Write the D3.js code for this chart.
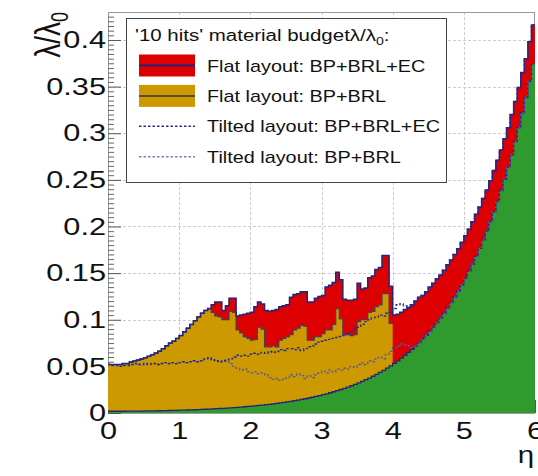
<!DOCTYPE html>
<html>
<head>
<meta charset="utf-8">
<script src="https://cdn.jsdelivr.net/npm/d3@7"></script>
<style>
  body { margin: 0; background: #fff; }
  svg { display: block; }
  text { font-family: "Liberation Sans", Arial, Helvetica, sans-serif; fill: #111; }
</style>
</head>
<body>
<svg id="chart" width="538" height="476"></svg>
<script>
// ---- binning and axes ----
const etaRange = [0, 6];
const binWidth = 0.05;
const yMax = 0.43;
const xTicks = [0, 1, 2, 3, 4, 5, 6];
const xTickLabels = ["0", "1", "2", "3", "4", "5", "6"];
const yTicks = [0, 0.05, 0.1, 0.15, 0.2, 0.25, 0.3, 0.35, 0.4];
const yTickLabels = ["0", "0.05", "0.1", "0.15", "0.2", "0.25", "0.3", "0.35", "0.4"];

// ---- cumulative material budget per eta bin (lambda/lambda_0) ----
// beam pipe only
const bpTotal = [
  0.0019,0.0019,0.0019,0.0019,0.0019,0.0020,0.0020,0.0020,0.0021,0.0021,
  0.0022,0.0022,0.0023,0.0023,0.0024,0.0025,0.0026,0.0027,0.0028,0.0029,
  0.0030,0.0031,0.0032,0.0034,0.0035,0.0037,0.0038,0.0040,0.0042,0.0044,
  0.0046,0.0048,0.0050,0.0052,0.0055,0.0058,0.0060,0.0063,0.0067,0.0070,
  0.0073,0.0077,0.0081,0.0085,0.0089,0.0093,0.0098,0.0103,0.0108,0.0114,
  0.0119,0.0125,0.0132,0.0139,0.0146,0.0153,0.0161,0.0169,0.0178,0.0187,
  0.0196,0.0206,0.0217,0.0228,0.0239,0.0252,0.0264,0.0278,0.0292,0.0307,
  0.0323,0.0339,0.0357,0.0375,0.0394,0.0414,0.0436,0.0458,0.0481,0.0506,
  0.0532,0.0559,0.0588,0.0618,0.0650,0.0683,0.0718,0.0755,0.0794,0.0834,
  0.0877,0.0922,0.0969,0.1019,0.1071,0.1126,0.1184,0.1244,0.1308,0.1375,
  0.1446,0.1520,0.1598,0.1680,0.1766,0.1856,0.1951,0.2052,0.2157,0.2267,
  0.2384,0.2506,0.2634,0.2769,0.2911,0.3061,0.3218,0.3383,0.3556,0.3738
];
// flat layout: beam pipe + barrel (eta < 4)
const flatBrlTotal = [
  0.052,0.052,0.052,0.052,0.053,0.053,0.0548,0.0557,0.0568,0.058,
  0.0593,0.0608,0.0625,0.0643,0.0663,0.069,0.072,0.075,0.077,0.080,
  0.083,0.087,0.091,0.095,0.099,0.103,0.107,0.110,0.112,0.108,
  0.104,0.103,0.100,0.100,0.109,0.108,0.089,0.086,0.082,0.080,
  0.078,0.079,0.092,0.090,0.071,0.071,0.072,0.071,0.078,0.080,
  0.082,0.084,0.089,0.091,0.094,0.093,0.078,0.078,0.082,0.082,
  0.085,0.089,0.089,0.095,0.112,0.101,0.084,0.084,0.083,0.084,
  0.098,0.100,0.100,0.108,0.109,0.114,0.116,0.128,0.128,0.096
];
// flat layout: beam pipe + barrel + endcaps
const flatEcTotal = [
  0.052,0.052,0.052,0.052,0.053,0.053,0.0548,0.0557,0.0568,0.058,
  0.0593,0.0608,0.0625,0.0643,0.0663,0.069,0.072,0.075,0.077,0.080,
  0.083,0.087,0.091,0.095,0.099,0.103,0.107,0.110,0.112,0.116,
  0.119,0.119,0.110,0.115,0.123,0.123,0.104,0.105,0.106,0.107,
  0.108,0.114,0.119,0.117,0.110,0.109,0.110,0.111,0.114,0.115,
  0.116,0.124,0.127,0.128,0.130,0.130,0.119,0.119,0.123,0.125,
  0.126,0.135,0.137,0.140,0.151,0.143,0.122,0.121,0.121,0.122,
  0.139,0.133,0.134,0.145,0.147,0.154,0.156,0.169,0.169,0.136,
  0.105,0.106,0.108,0.111,0.113,0.116,0.120,0.124,0.126,0.130,
  0.135,0.139,0.144,0.148,0.153,0.159,0.164,0.170,0.176,0.183,
  0.190,0.197,0.205,0.213,0.221,0.230,0.239,0.249,0.260,0.271,
  0.282,0.294,0.306,0.320,0.334,0.349,0.365,0.380,0.398,0.416
];
// tilted layout: beam pipe + barrel + endcaps
const tiltedEcTotal = [
  0.052,0.051,0.051,0.050,0.051,0.051,0.052,0.053,0.052,0.052,
  0.053,0.052,0.053,0.053,0.052,0.053,0.054,0.053,0.054,0.053,
  0.054,0.055,0.054,0.055,0.056,0.055,0.056,0.058,0.059,0.057,
  0.056,0.055,0.056,0.057,0.058,0.060,0.062,0.061,0.062,0.061,
  0.063,0.064,0.063,0.065,0.064,0.066,0.065,0.066,0.068,0.067,
  0.069,0.069,0.068,0.070,0.067,0.069,0.071,0.072,0.074,0.076,
  0.077,0.078,0.079,0.080,0.081,0.082,0.083,0.086,0.088,0.090,
  0.092,0.095,0.098,0.100,0.102,0.103,0.105,0.104,0.107,0.108,
  0.112,0.116,0.117,0.115,0.114,0.116,0.120,0.124,0.126,0.130,
  0.135,0.139,0.144,0.148,0.153,0.159,0.164,0.170,0.176,0.183,
  0.190,0.197,0.205,0.213,0.221,0.230,0.239,0.249,0.260,0.271,
  0.282,0.294,0.306,0.320,0.334,0.349,0.365,0.380,0.398,0.416
];
// tilted layout: beam pipe + barrel
const tiltedBrlTotal = [
  0.052,0.051,0.051,0.050,0.051,0.051,0.052,0.053,0.052,0.052,
  0.053,0.052,0.053,0.053,0.052,0.053,0.054,0.053,0.054,0.053,
  0.054,0.055,0.054,0.055,0.056,0.055,0.056,0.058,0.059,0.057,
  0.056,0.055,0.056,0.055,0.053,0.050,0.048,0.046,0.047,0.044,
  0.043,0.044,0.042,0.043,0.041,0.038,0.036,0.037,0.035,0.036,
  0.038,0.041,0.039,0.042,0.040,0.037,0.040,0.038,0.041,0.043,
  0.045,0.043,0.046,0.044,0.047,0.046,0.048,0.047,0.050,0.049,
  0.052,0.054,0.052,0.056,0.055,0.058,0.060,0.058,0.063,0.066,
  0.070,0.072,0.074,0.073,0.072,0.070,0.0718,0.0755,0.0794,0.0834,
  0.0877,0.0922,0.0969,0.1019,0.1071,0.1126,0.1184,0.1244,0.1308,0.1375,
  0.1446,0.1520,0.1598,0.1680,0.1766,0.1856,0.1951,0.2052,0.2157,0.2267,
  0.2384,0.2506,0.2634,0.2769,0.2911,0.3061,0.3218,0.3383,0.3556,0.3738
];

const legendEntries = [
  { label: "Flat layout: BP+BRL+EC", kind: "box", fill: "#dd0000", line: "#23237a" },
  { label: "Flat layout: BP+BRL", kind: "box", fill: "#cc9900", line: "#5a4a30" },
  { label: "Tilted layout: BP+BRL+EC", kind: "dots", line: "#2a2a8c" },
  { label: "Tilted layout: BP+BRL", kind: "dots", line: "#7a7ac0" }
];

// ---- drawing ----
const svg = d3.select("#chart");
const SX = 1.28;        // horizontal glyph stretch used for all labels
const plot = { left: 108, right: 535, top: 12, bottom: 413 };

const x = d3.scaleLinear().domain(etaRange).range([plot.left, plot.right]);
const y = d3.scaleLinear().domain([0, yMax]).range([plot.bottom, plot.top]);

svg.append("defs").append("clipPath").attr("id", "plotClip")
  .append("rect").attr("x", plot.left).attr("y", plot.top)
  .attr("width", plot.right - plot.left).attr("height", plot.bottom - plot.top);

// grid
const grid = svg.append("g").attr("stroke", "#cdcdcd").attr("stroke-width", 1)
  .attr("stroke-dasharray", "3,2");
grid.selectAll("line.gx").data(xTicks.filter(d => d > etaRange[0] && d < etaRange[1]))
  .join("line").attr("class", "gx")
  .attr("x1", d => Math.round(x(d)) + 0.5).attr("x2", d => Math.round(x(d)) + 0.5)
  .attr("y1", plot.top).attr("y2", plot.bottom);
grid.selectAll("line.gy").data(yTicks.filter(d => d > 0))
  .join("line").attr("class", "gy")
  .attr("x1", plot.left).attr("x2", plot.right)
  .attr("y1", d => Math.round(y(d)) + 0.5).attr("y2", d => Math.round(y(d)) + 0.5);

// frame
svg.append("rect").attr("x", plot.left + 0.5).attr("y", plot.top + 0.5)
  .attr("width", plot.right - plot.left - 1).attr("height", plot.bottom - plot.top)
  .attr("fill", "none").attr("stroke", "#9a9a9a").attr("stroke-width", 1);

// y axis: major + minor ticks pointing inwards
const yAxis = d3.axisLeft(y).tickValues(yTicks)
  .tickFormat((d, i) => yTickLabels[i]).tickSize(-13).tickPadding(3);
const gy = svg.append("g").attr("transform", `translate(${plot.left},0)`).call(yAxis);
gy.select(".domain").remove();
gy.selectAll(".tick line").attr("stroke", "#555");
gy.selectAll(".tick text")
  .attr("font-size", 24).attr("font-family", "Liberation Sans, Arial, sans-serif")
  .attr("fill", "#111").attr("x", 0)
  .attr("transform", `translate(-2,0) scale(${SX},1)`);

const minorY = d3.range(0, yMax, 0.005).filter(v => Math.abs(v / 0.05 - Math.round(v / 0.05)) > 1e-6);
const gyMinor = svg.append("g").attr("transform", `translate(${plot.left},0)`)
  .call(d3.axisLeft(y).tickValues(minorY).tickFormat("").tickSize(-6));
gyMinor.select(".domain").remove();
gyMinor.selectAll(".tick line").attr("stroke", "#666");

// x axis
const xAxis = d3.axisBottom(x).tickValues(xTicks)
  .tickFormat((d, i) => xTickLabels[i]).tickSize(-13).tickPadding(9);
const gx = svg.append("g").attr("transform", `translate(0,${plot.bottom})`).call(xAxis);
gx.select(".domain").remove();
gx.selectAll(".tick line").attr("stroke", "#555");
gx.selectAll(".tick text")
  .attr("font-size", 24).attr("font-family", "Liberation Sans, Arial, sans-serif")
  .attr("fill", "#111").attr("transform", `scale(${SX},1)`);

// histogram helpers
const binPoints = vals => {
  const pts = vals.map((v, i) => [etaRange[0] + i * binWidth, v]);
  pts.push([etaRange[0] + vals.length * binWidth, vals[vals.length - 1]]);
  return pts;
};
const histArea = d3.area().curve(d3.curveStepAfter)
  .x(d => x(d[0])).y0(y(0)).y1(d => y(d[1]));
const histLine = d3.line().curve(d3.curveStepAfter)
  .x(d => x(d[0])).y(d => y(d[1]));

const hist = svg.append("g").attr("clip-path", "url(#plotClip)");

hist.append("path").attr("d", histArea(binPoints(flatEcTotal))).attr("fill", "#dd0000");
hist.append("path").attr("d", histArea(binPoints(flatBrlTotal))).attr("fill", "#cc9900");
hist.append("path").attr("d", histArea(binPoints(bpTotal))).attr("fill", "#2f9b2f");

hist.append("path").attr("d", histLine(binPoints(flatBrlTotal)))
  .attr("fill", "none").attr("stroke", "#4a3d52").attr("stroke-width", 1.2);
hist.append("path").attr("d", histLine(binPoints(bpTotal)))
  .attr("fill", "none").attr("stroke", "#23237a").attr("stroke-width", 1.3);
hist.append("path").attr("d", histLine(binPoints(flatEcTotal)))
  .attr("fill", "none").attr("stroke", "#23237a").attr("stroke-width", 1.5);

hist.append("path").attr("d", histLine(binPoints(tiltedBrlTotal)))
  .attr("fill", "none").attr("stroke", "#5a5a96").attr("stroke-width", 1.3)
  .attr("stroke-dasharray", "2.5,2");
hist.append("path").attr("d", histLine(binPoints(tiltedEcTotal)))
  .attr("fill", "none").attr("stroke", legendEntries[2].line).attr("stroke-width", 1.4)
  .attr("stroke-dasharray", "2.5,2");

// axis titles
svg.append("text")
  .attr("transform", `translate(60,${plot.top}) scale(${SX},1) rotate(-90)`)
  .attr("text-anchor", "end").attr("font-size", 28)
  .call(t => {
    t.append("tspan").text("λ/λ");
    t.append("tspan").attr("font-size", 18).attr("dy", 6).text("0");
  });
svg.append("text")
  .attr("transform", `translate(534,463) scale(${SX},1)`)
  .attr("text-anchor", "end").attr("font-size", 23).text("η");

// legend
const lg = svg.append("g");
lg.append("rect").attr("x", 126.5).attr("y", 18.5).attr("width", 320).attr("height", 164)
  .attr("fill", "#fff").attr("stroke", "#444").attr("stroke-width", 1);
lg.append("text").attr("transform", `translate(135,40.5) scale(${SX},1)`)
  .attr("font-size", 16)
  .call(t => {
    t.append("tspan").text("'10 hits' material budgetλ/λ");
    t.append("tspan").attr("font-size", 11).attr("dy", 4).text("0");
    t.append("tspan").attr("font-size", 16).attr("dy", -4).text(":");
  });

const rowY = [71.5, 101.9, 132.3, 162.7];
legendEntries.forEach((e, i) => {
  const cy = rowY[i] - 6;
  if (e.kind === "box") {
    lg.append("rect").attr("x", 139).attr("y", cy - 11).attr("width", 56).attr("height", 22)
      .attr("fill", e.fill);
    lg.append("line").attr("x1", 139).attr("x2", 195).attr("y1", cy).attr("y2", cy)
      .attr("stroke", e.line).attr("stroke-width", 2);
  } else {
    lg.append("line").attr("x1", 139).attr("x2", 195).attr("y1", cy).attr("y2", cy)
      .attr("stroke", e.line).attr("stroke-width", 1.5).attr("stroke-dasharray", "2.5,2");
  }
  lg.append("text").attr("transform", `translate(207,${rowY[i]}) scale(1.24,1)`)
    .attr("font-size", 16).text(e.label);
});
</script>
</body>
</html>
